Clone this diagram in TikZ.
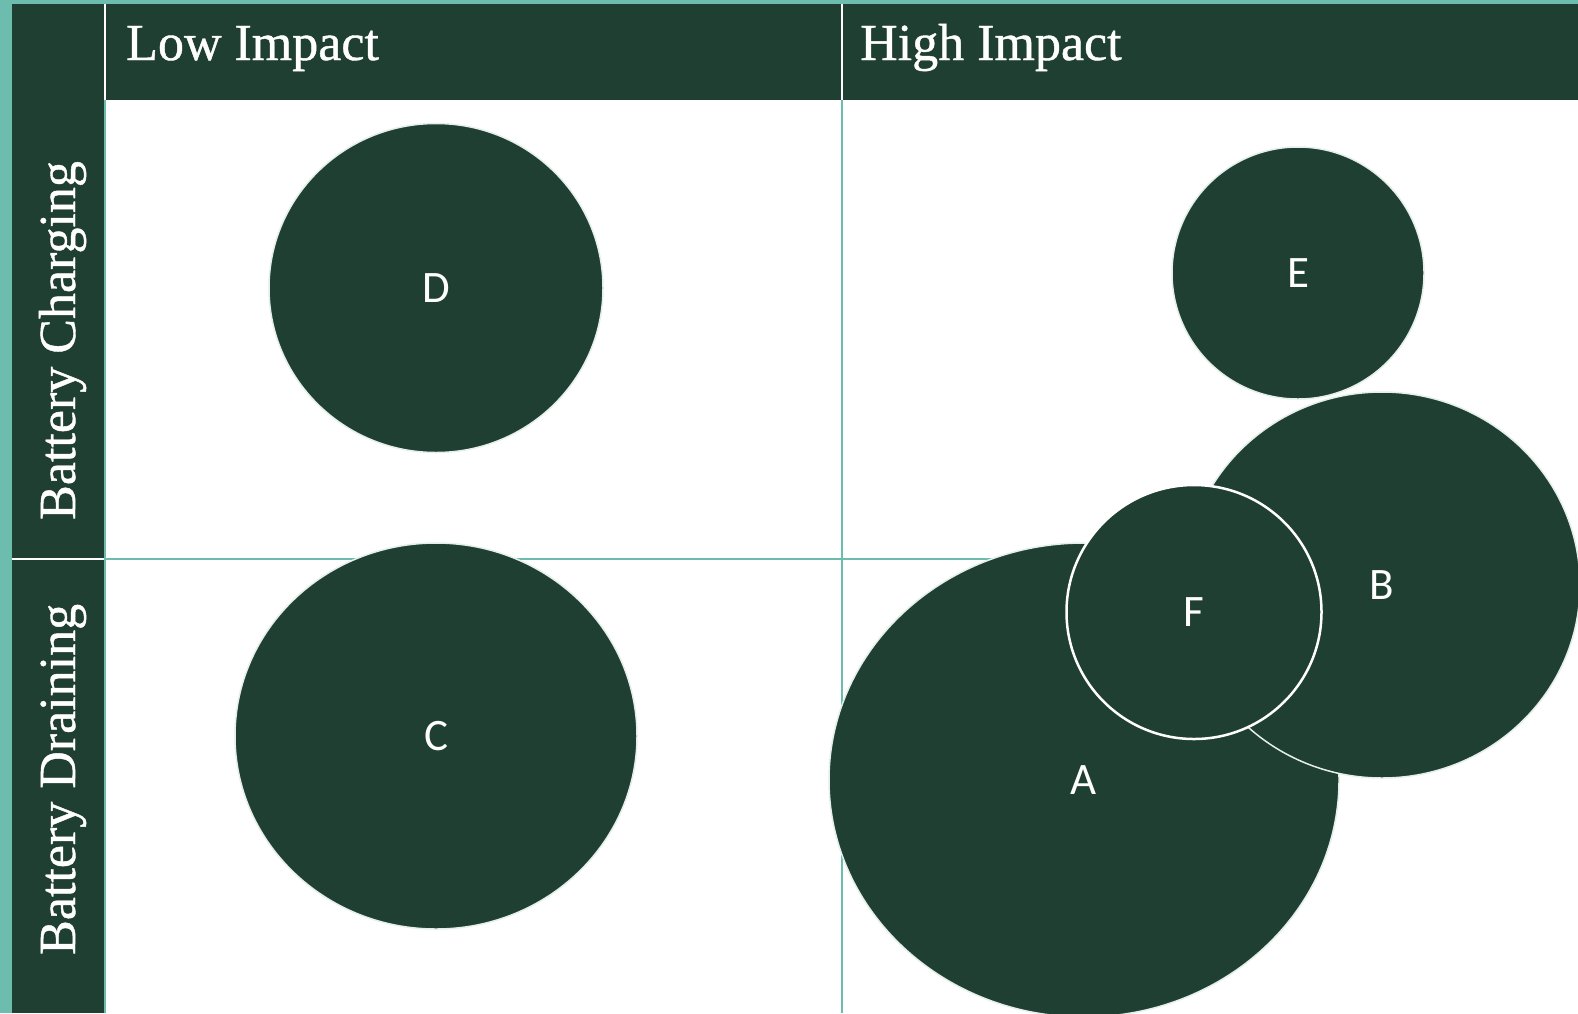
\documentclass[tikz,border=0pt]{standalone}
\usepackage{fontspec}
\setmainfont{Liberation Serif}
\newfontfamily\hdrfont{Liberation Serif}[BoldFont={Liberation Serif}, BoldFeatures={FakeBold=0.8}]
\newfontfamily\lblfont{Carlito}
\usetikzlibrary{shapes.geometric}
\definecolor{dk}{HTML}{1F3F32}
\definecolor{tealc}{HTML}{6CBDAD}
\definecolor{rim}{HTML}{E4EEEA}
\tikzset{
  hdr/.style={text=white, inner sep=0pt, font=\hdrfont\bfseries\fontsize{52}{52}\selectfont},
  bub/.style={ellipse, fill=dk, draw=rim, line width=1.5pt, inner sep=0pt,
    text=white, font=\lblfont\fontsize{45}{45}\selectfont},
  gridline/.style={draw=tealc, line width=2.5pt},
  sepline/.style={draw=white, line width=2pt}
}
\begin{document}
\begin{tikzpicture}[x=1pt,y=-1pt]
\useasboundingbox (0,0) rectangle (1578,1013);
\clip (0,0) rectangle (1578,1013);
\fill[white] (0,0) rectangle (1578,1013);
\fill[tealc] (0,0) rectangle (1578,4);
\fill[tealc] (0,0) rectangle (12,1013);
\fill[dk] (12,4) rectangle (104,1013);
\fill[dk] (106,4) rectangle (1578,100);
% grid
\coordinate (g1) at (105,100); \coordinate (g2) at (105,1013);
\coordinate (g3) at (842,100); \coordinate (g4) at (842,1013);
\coordinate (g5) at (106,559); \coordinate (g6) at (1578,559);
\draw[gridline] (g1) -- (g2);
\draw[gridline] (g3) -- (g4);
\draw[gridline] (g5) -- (g6);
\coordinate (s1) at (105,4); \coordinate (s2) at (105,100);
\coordinate (s3) at (842,4); \coordinate (s4) at (842,100);
\coordinate (s5) at (12,559); \coordinate (s6) at (104,559);
\draw[sepline] (s1) -- (s2);
\draw[sepline] (s3) -- (s4);
\draw[sepline] (s5) -- (s6);
% headers
\node[hdr, anchor=base west] (low) at (126,60) {Low Impact};
\node[hdr, anchor=base west] (high) at (860,60) {High Impact};
\node[hdr, anchor=base west, rotate=90] (chg) at (75,520) {Battery Charging};
\node[hdr, anchor=base west, rotate=90] (drn) at (75,955) {Battery Draining};
% bubbles
\node[bub, minimum width=334pt, minimum height=329pt] (D) at (436,288) {D};
\node[bub, minimum width=402pt, minimum height=386pt] (C) at (436,736) {C};
\node[bub, minimum width=252pt, minimum height=252pt] (E) at (1298,273) {E};
\node[bub, minimum width=510pt, minimum height=474pt] (A) at (1084,780) {A};
\node[bub, minimum width=396pt, minimum height=386pt] (B) at (1382,585) {B};
\node[bub, draw=white, line width=2.5pt, minimum width=255pt, minimum height=254pt] (F) at (1194,612) {F};
\end{tikzpicture}
\end{document}
